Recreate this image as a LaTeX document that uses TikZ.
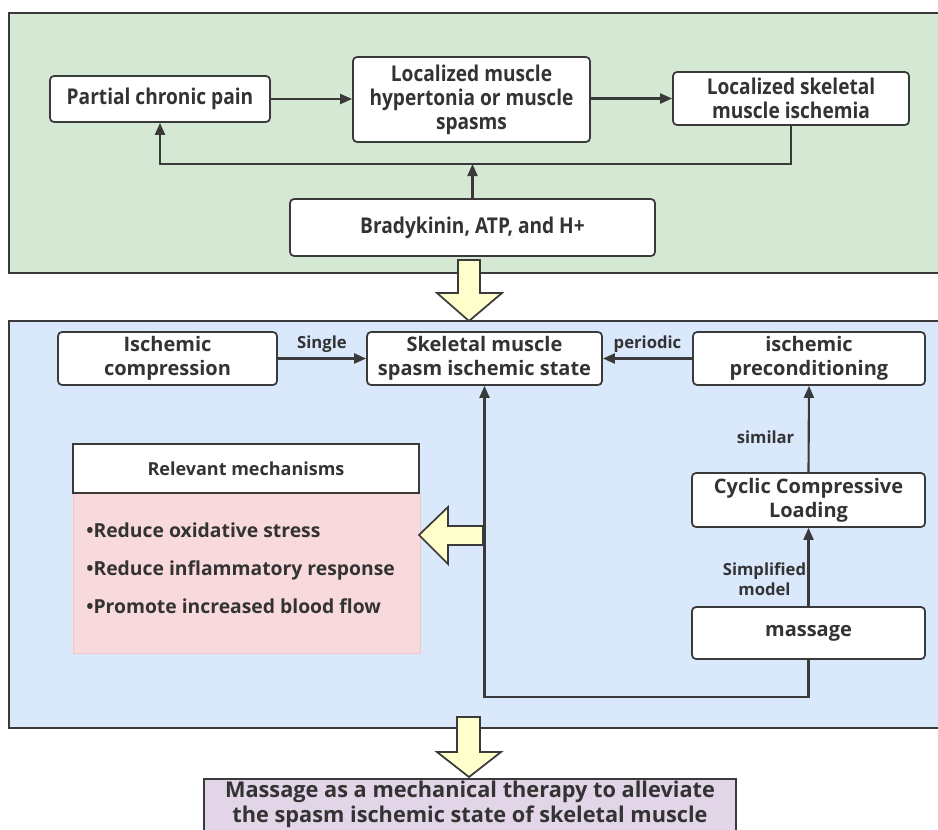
\documentclass[tikz,border=0pt]{standalone}
\usepackage{fontspec}
\setmainfont{Open Sans}
\newfontfamily\condfont[FakeStretch=0.88]{Open Sans}
\usetikzlibrary{arrows.meta}
\definecolor{gfill}{HTML}{D5E8D4}
\definecolor{bfill}{HTML}{DAE8FC}
\definecolor{yfill}{HTML}{FFFFCC}
\definecolor{pkfill}{HTML}{F9DADC}
\definecolor{pkedge}{HTML}{F4C6C8}
\definecolor{vfill}{HTML}{E1D5E7}
\definecolor{ink}{HTML}{333333}
\definecolor{edgec}{HTML}{3A3A3A}
\tikzset{
  panel/.style={draw=edgec, line width=1.5pt},
  box/.style={draw=edgec, line width=1.3pt, fill=white, rounded corners=3pt, align=center,
    text=ink, inner sep=2pt, font=\fontsize{15}{18}\selectfont\bfseries},
  topbox/.style={box, font=\condfont\fontsize{16.3}{18}\selectfont\bfseries},
  lbl/.style={text=ink, align=center, inner sep=2pt, font=\fontsize{12.5}{15}\selectfont\bfseries},
  arr/.style={draw=edgec, line width=1.6pt, -{Triangle[length=9pt,width=7.5pt]}},
  yarrow/.style={draw=edgec, line width=1.3pt, fill=yfill, line join=miter}
}
\begin{document}
\begin{tikzpicture}[x=0.75pt,y=-0.75pt]
\clip (0,0) rectangle (938,829);
\fill[white] (0,0) rectangle (938,829);
% panels
\draw[panel, fill=gfill] (9,13) rectangle (960,273);
\draw[panel, fill=bfill] (9,321) rectangle (960,728);

% top panel nodes
\node[topbox, minimum width=165pt, minimum height=34.5pt] (pain) at (160,99) {Partial chronic pain};
\node[topbox, minimum width=177.75pt, minimum height=63.75pt] (hyper) at (471.5,99.5) {Localized muscle\\hypertonia or muscle\\spasms};
\node[topbox, minimum width=177pt, minimum height=39.75pt] (isch) at (791,98.5) {Localized skeletal\\muscle ischemia};
\node[topbox, minimum width=273.75pt, minimum height=42.75pt] (brady) at (472.5,227.5) {Bradykinin, ATP, and H+};
\coordinate (fbl) at (0,164);

\draw[arr] (pain.east) -- (pain.east -| hyper.west);
\draw[arr] (hyper.east |- isch.west) -- (isch.west);
\draw[arr] (isch.south) -- (isch.south |- fbl) -| (pain.south);
\draw[arr] (brady.north) -- (brady.north |- fbl);

% yellow arrow 1
\draw[yarrow] (458,260) -- (480,260) -- (480,293) -- (502,293) -- (469,321) -- (437,293) -- (458,293) -- cycle;

% middle panel nodes
\node[box, minimum width=164.25pt, minimum height=39.75pt] (comp) at (167.5,358.5) {Ischemic\\compression};
\node[box, minimum width=176.25pt, minimum height=39.75pt] (skel) at (484.5,358.5) {Skeletal muscle\\spasm ischemic state};
\node[box, minimum width=174pt, minimum height=39.75pt] (prec) at (809,358.5) {ischemic\\preconditioning};
\node[box, minimum width=174.75pt, minimum height=40.5pt] (cyc) at (808.5,500) {Cyclic Compressive\\Loading};
\node[box, minimum width=174.75pt, minimum height=39pt] (mass) at (808.5,633) {massage};

\node[draw=pkedge, line width=0.8pt, fill=pkfill, minimum width=260.25pt, minimum height=120pt, anchor=north west] (pink) at (73,493) {};
\node[draw=edgec, line width=1.3pt, fill=white, text=ink, minimum width=259.5pt, minimum height=36.75pt,
  font=\fontsize{13.5}{16}\selectfont\bfseries] (head) at (246,468.5) {Relevant mechanisms};
\node[text=ink, align=left, anchor=west, inner sep=0pt, font=\fontsize{14.5}{28.5}\selectfont\bfseries] (list) at (86,568)
  {•Reduce oxidative stress\\•Reduce inflammatory response\\•Promote increased blood flow};

\coordinate (lp) at (0,697);
\draw[arr] (comp.east) -- node[lbl, above, yshift=2pt] (lsingle) {Single} (skel.west);
\draw[arr] (prec.west) -- node[lbl, above, yshift=2pt] (lperiod) {periodic} (skel.east);
\draw[arr] (cyc.north) -- node[lbl, left, pos=0.41, xshift=-8pt] (lsim) {similar} (prec.south);
\draw[arr] (mass.north) -- node[lbl, left, pos=0.35, inner sep=1pt] (lsimp) {Simplified\\model} (cyc.south);
\draw[arr] (mass.south) -- (mass.south |- lp) -| (skel.south);

% yellow arrow 2 (left)
\draw[yarrow] (483,526) -- (483,545) -- (448,545) -- (448,564) -- (419,535) -- (448,507) -- (448,526) -- cycle;

% yellow arrow 3
\draw[yarrow] (457,717) -- (480,717) -- (480,752) -- (501,752) -- (469,777) -- (437,752) -- (457,752) -- cycle;

% bottom box
\node[draw=edgec, line width=1.3pt, fill=vfill, minimum width=399pt, minimum height=60pt, anchor=north] (final) at (470,778) {};
\node[text=ink, align=center, inner sep=0pt, anchor=north, font=\fontsize{16.3}{18.75}\selectfont\bfseries] (ftext) at (470,781)
  {Massage as a mechanical therapy to alleviate\\the spasm ischemic state of skeletal muscle};
\end{tikzpicture}
\end{document}
